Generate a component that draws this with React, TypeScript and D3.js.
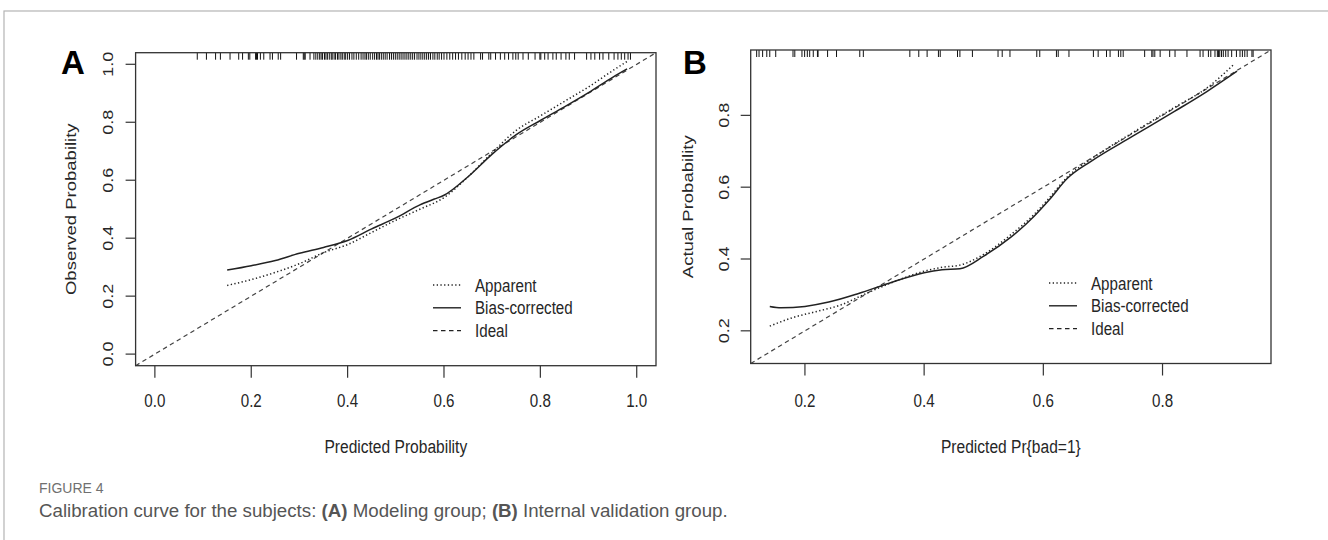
import React from "react";
import * as d3 from "d3";

// Panel A (modeling group)
const rugA = [0.088, 0.107, 0.126, 0.136, 0.156, 0.174, 0.182, 0.194, 0.197, 0.209, 0.211, 0.213, 0.219, 0.226, 0.239, 0.244, 0.256, 0.261,
  0.294, 0.308, 0.310, 0.312, 0.322, 0.330, 0.334, 0.338, 0.342, 0.345, 0.348, 0.352, 0.355, 0.358, 0.362, 0.366, 0.368, 0.372, 0.375,
  0.379, 0.382, 0.386, 0.389, 0.393, 0.396, 0.400, 0.404, 0.409, 0.413, 0.418, 0.423, 0.428, 0.432, 0.436, 0.439, 0.443, 0.447, 0.452,
  0.456, 0.460, 0.463, 0.466, 0.470, 0.474, 0.478, 0.482, 0.487, 0.491, 0.495, 0.499, 0.503, 0.507, 0.511, 0.515, 0.519, 0.523, 0.527,
  0.531, 0.535, 0.539, 0.544, 0.548, 0.552, 0.556, 0.560, 0.564, 0.568, 0.572, 0.577, 0.581, 0.586, 0.590, 0.595, 0.600, 0.606, 0.612,
  0.618, 0.624, 0.630, 0.637, 0.644, 0.650, 0.656, 0.662, 0.676, 0.680, 0.693, 0.697, 0.707, 0.717, 0.726, 0.734, 0.743, 0.749, 0.754,
  0.764, 0.775, 0.789, 0.799, 0.801, 0.809, 0.816, 0.826, 0.833, 0.843, 0.853, 0.860, 0.871, 0.896, 0.905, 0.913, 0.923, 0.930, 0.942,
  0.953, 0.961, 0.968, 0.975, 0.982, 0.987];
const apparentAX = [0.15, 0.20, 0.25, 0.30, 0.35, 0.40, 0.45, 0.50, 0.55, 0.60, 0.65, 0.70, 0.75, 0.80, 0.85, 0.90, 0.95, 0.98];
const apparentAY = [0.237, 0.257, 0.282, 0.312, 0.350, 0.378, 0.420, 0.462, 0.500, 0.540, 0.612, 0.695, 0.772, 0.822, 0.872, 0.922, 0.978, 1.010];
const biasAX = [0.15, 0.20, 0.25, 0.30, 0.35, 0.40, 0.45, 0.50, 0.55, 0.58, 0.60, 0.65, 0.70, 0.75, 0.80, 0.85, 0.90, 0.95, 0.98];
const biasAY = [0.290, 0.305, 0.323, 0.348, 0.368, 0.392, 0.432, 0.470, 0.515, 0.535, 0.548, 0.612, 0.690, 0.757, 0.806, 0.853, 0.902, 0.955, 0.984];
const ticksA = [0, 0.2, 0.4, 0.6, 0.8, 1.0];
const limA = [-0.04, 1.04];

// Panel B (internal validation group)
const rugB = [0.119, 0.123, 0.129, 0.136, 0.141, 0.151, 0.180, 0.183, 0.195, 0.1995, 0.204, 0.208, 0.214, 0.221, 0.222, 0.238, 0.253,
  0.292, 0.298, 0.376, 0.391, 0.405, 0.424, 0.427, 0.456, 0.460, 0.481, 0.524, 0.531, 0.544, 0.589, 0.594, 0.622, 0.625, 0.643,
  0.684, 0.692, 0.706, 0.712, 0.726, 0.730, 0.734, 0.770, 0.782, 0.784, 0.787, 0.796, 0.812, 0.821, 0.841, 0.863, 0.868, 0.877,
  0.881, 0.888, 0.892, 0.894, 0.896, 0.899, 0.902, 0.906, 0.910, 0.916, 0.924, 0.930, 0.934, 0.938, 0.942, 0.950, 0.952];
const apparentBX = [0.141, 0.18, 0.22, 0.26, 0.30, 0.35, 0.40, 0.43, 0.46, 0.50, 0.545, 0.585, 0.61, 0.64, 0.68, 0.75, 0.82, 0.875, 0.921];
const apparentBY = [0.213, 0.237, 0.254, 0.272, 0.302, 0.337, 0.366, 0.377, 0.383, 0.413, 0.467, 0.525, 0.570, 0.628, 0.678, 0.752, 0.822, 0.877, 0.944];
const biasBX = [0.141, 0.16, 0.20, 0.24, 0.29, 0.34, 0.40, 0.43, 0.46, 0.50, 0.545, 0.585, 0.61, 0.64, 0.68, 0.75, 0.82, 0.875, 0.925];
const biasBY = [0.268, 0.264, 0.268, 0.280, 0.304, 0.332, 0.362, 0.370, 0.373, 0.408, 0.460, 0.520, 0.565, 0.624, 0.672, 0.742, 0.811, 0.867, 0.923];
const ticksB = [0.2, 0.4, 0.6, 0.8];
const limB = [0.109, 0.982];

const legendLabels = ["Apparent", "Bias-corrected", "Ideal"];
const dashes = ["1.3,2.4", "", "4.5,3.5"];

const SQ = 0.82; // the R plot is squeezed horizontally in the figure
const FONT = "'Liberation Sans', Arial, sans-serif";
const INK = "#262626";

const fmt = d3.format(".1f");

interface PanelProps {
  letter: string;
  letterX: number;
  left: number;
  top: number;
  width: number;
  height: number;
  lim: number[];
  ticks: number[];
  rug: number[];
  apparent: [number[], number[]];
  bias: [number[], number[]];
  xTitle: string;
  yTitle: string;
  yLabelX: number;
  yTitleX: number;
  legendX: number;
  legendY: number;
}

const hText = (x: number, y: number) => `translate(${x},${y}) scale(${SQ},1)`;
const vText = (x: number, y: number) => `translate(${x},${y}) scale(${SQ},1) rotate(-90)`;

function Panel(p: PanelProps) {
  const x = d3.scaleLinear().domain(p.lim).range([p.left, p.left + p.width]);
  const y = d3.scaleLinear().domain(p.lim).range([p.top + p.height, p.top]);
  const line = d3.line<[number, number]>().x(d => x(d[0])).y(d => y(d[1])).curve(d3.curveMonotoneX);
  const zip = (a: number[], b: number[]) => a.map((k, i) => [k, b[i]] as [number, number]);
  const bottom = p.top + p.height;
  const midX = p.left + p.width / 2;
  const midY = p.top + p.height / 2;
  return (
    <g fontFamily={FONT} fill={INK}>
      <text x={p.letterX} y={74} fontSize={33} fontWeight="bold" fill="#000">{p.letter}</text>
      {/* ideal */}
      <line x1={x(p.lim[0])} y1={y(p.lim[0])} x2={x(p.lim[1])} y2={y(p.lim[1])}
        stroke="#444" strokeWidth={1.2} strokeDasharray={dashes[2]} />
      <path d={line(zip(p.apparent[0], p.apparent[1])) || ""} fill="none" stroke="#222" strokeWidth={1.5} strokeDasharray={dashes[0]} />
      <path d={line(zip(p.bias[0], p.bias[1])) || ""} fill="none" stroke="#222" strokeWidth={1.5} />
      {/* rug of predicted values */}
      {p.rug.map((v, i) => (
        <line key={i} x1={x(v)} x2={x(v)} y1={p.top} y2={p.top + 7} stroke="#111" strokeWidth={1} />
      ))}
      <rect x={p.left} y={p.top} width={p.width} height={p.height} fill="none" stroke="#333" strokeWidth={1.3} />
      {p.ticks.map(t => (
        <g key={"x" + t}>
          <line x1={x(t)} x2={x(t)} y1={bottom} y2={bottom + 12} stroke="#333" strokeWidth={1.2} />
          <text transform={hText(x(t), 400)} dy="0.36em" textAnchor="middle" fontSize={18.5}>{fmt(t)}</text>
        </g>
      ))}
      {p.ticks.map(t => (
        <g key={"y" + t}>
          <line x1={p.left - 10} x2={p.left} y1={y(t)} y2={y(t)} stroke="#333" strokeWidth={1.2} />
          <text transform={vText(p.yLabelX, y(t))} dy="0.36em" textAnchor="middle" fontSize={18}>{fmt(t)}</text>
        </g>
      ))}
      <text transform={hText(midX, 446)} dy="0.36em" textAnchor="middle" fontSize={19}>{p.xTitle}</text>
      <text transform={vText(p.yTitleX, midY)} dy="0.36em" textAnchor="middle" fontSize={18.5}>{p.yTitle}</text>
      {legendLabels.map((lab, i) => (
        <g key={lab}>
          <line x1={p.legendX} x2={p.legendX + 28} y1={p.legendY + i * 22.8} y2={p.legendY + i * 22.8}
            stroke="#222" strokeWidth={1.4} strokeDasharray={dashes[i]} />
          <text transform={hText(p.legendX + 42, p.legendY + i * 22.8)} dy="0.36em" fontSize={18.5}>{lab}</text>
        </g>
      ))}
    </g>
  );
}

const CAPTION_FONT = "'Liberation Sans', Arial, sans-serif";

export default function App() {
  return (
    <svg width={1328} height={540} style={{ position: "absolute", left: 0, top: 0, background: "#fff" }}>
      <rect x={4} y={11} width={1400} height={600} fill="none" stroke="#b4b4b4" strokeWidth={1.2} />
      <Panel letter="A" letterX={61} left={135.6} top={52.7} width={520.4} height={313}
        lim={limA} ticks={ticksA} rug={rugA}
        apparent={[apparentAX, apparentAY]} bias={[biasAX, biasAY]}
        xTitle="Predicted Probability" yTitle="Observed Probability"
        yLabelX={108} yTitleX={71} legendX={433} legendY={285} />
      <Panel letter="B" letterX={683} left={750.7} top={50} width={520.3} height={313.5}
        lim={limB} ticks={ticksB} rug={rugB}
        apparent={[apparentBX, apparentBY]} bias={[biasBX, biasBY]}
        xTitle="Predicted Pr{bad=1}" yTitle="Actual Probability"
        yLabelX={724} yTitleX={688} legendX={1049} legendY={283} />
      <text x={39} y={493} fontFamily={CAPTION_FONT} fontSize={14} fill="#707070">FIGURE 4</text>
      <text x={39} y={516.5} fontFamily={CAPTION_FONT} fontSize={18.7} fill="#555">
        Calibration curve for the subjects: <tspan fontWeight="bold">(A)</tspan> Modeling group; <tspan fontWeight="bold">(B)</tspan> Internal validation group.
      </text>
    </svg>
  );
}
